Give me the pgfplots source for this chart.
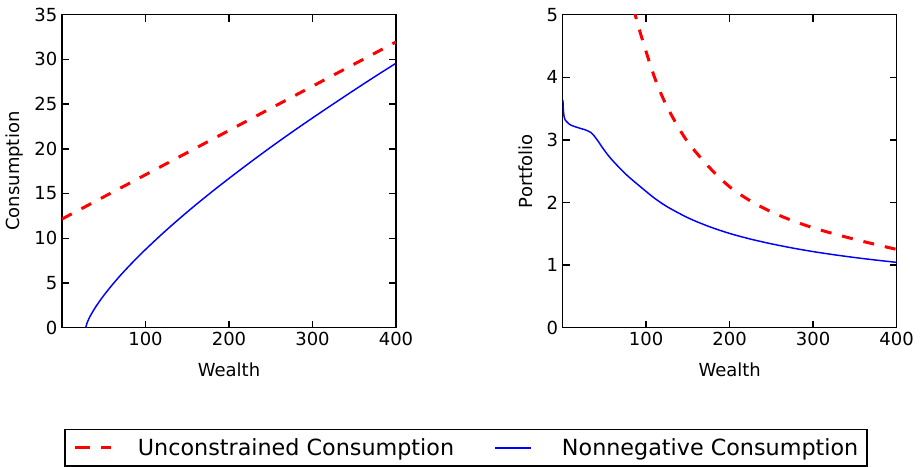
\documentclass[border=0pt]{standalone}
\usepackage{fontspec}
\setmainfont{DejaVu Sans}
\usepackage{pgfplots}
\pgfplotsset{compat=1.18}
\pgfplotsset{
  mystyle/.style={
    scale only axis, width=250.5pt, height=234.75pt,
    axis line style={line width=1.1pt},
    every tick/.style={line width=1.1pt, black},
    major tick length=5.25pt,
    tick align=inside,
    tick pos=both,
    tick label style={font=\fontsize{13.5}{16}\selectfont},
    label style={font=\fontsize{13.5}{16}\selectfont},
    /pgf/number format/assume math mode=true,
    xmin=0, xmax=400, xtick={100,200,300,400},
    xlabel={Wealth},
    xlabel style={at={(axis description cs:0.5,-0.135)}, anchor=center},
  },
  redline/.style={red, line width=2.25pt, dash pattern=on 8.25pt off 8.25pt},
  blueline/.style={blue, line width=1.1pt},
}
\begin{document}
\begin{tikzpicture}
\begin{axis}[mystyle,
  at={(46.5pt,-11.0pt)}, anchor=north west,
  ymin=0, ymax=35, ytick={0,5,...,35},
  ylabel={Consumption},
  ylabel style={at={(axis description cs:-0.143,0.5)}, anchor=center, rotate=0},
  legend style={
    at={(axis description cs:0.0069,-0.3236)}, anchor=north west,
    draw=black, line width=1.1pt,
    inner xsep=6.5pt, inner ysep=6.5pt,
    font=\fontsize{16.7}{20}\selectfont,
    nodes={inner sep=0pt},
    /tikz/every odd column/.append style={column sep=19pt},
    /tikz/every even column/.append style={column sep=30.3pt},
  },
  legend columns=2,
  legend cell align=left,
  legend image code/.code={\path (0pt,0pt) -- (3.2pt,0pt); \draw[#1] (3.2pt,0pt) -- (26.9pt,0pt);},
]
\addplot[redline] coordinates {(0,12.15) (400,31.95)};
\addlegendentry{Unconstrained Consumption\rule[-11pt]{0pt}{11pt}}
\addplot[blueline, smooth] coordinates {
(28.4,0) (30,0.525) (32,0.956) (35,1.498) (40,2.274) (45,2.96) (50,3.60) (60,4.77)
(70,5.85) (80,6.86) (90,7.82) (100,8.74) (120,10.49) (140,12.14) (160,13.72)
(180,15.23) (200,16.69) (225,18.46) (250,20.18) (275,21.84) (300,23.45)
(325,25.02) (350,26.57) (375,28.09) (400,29.57)};
\addlegendentry{\hspace{3.6pt}Nonnegative Consumption\rule[-11pt]{0pt}{11pt}}
\end{axis}
\begin{axis}[mystyle,
  at={(422.0pt,-11.0pt)}, anchor=north west,
  ymin=0, ymax=5, ytick={0,1,...,5},
  ylabel={Portfolio},
  ylabel style={at={(axis description cs:-0.1107,0.5)}, anchor=center},
]
\addplot[redline, smooth] coordinates {
(85,5.1) (86.8,5.0) (95,4.62) (110,4.0) (125,3.53) (148,3.0) (175,2.57) (200,2.25)
(228,2.0) (260,1.79) (300,1.595) (350,1.41) (400,1.25)};
\addplot[blueline, smooth] coordinates {
(0.3,3.64) (0.8,3.48) (1.6,3.38) (3,3.32) (4.8,3.29) (8,3.25) (12.7,3.22) (20.8,3.185)
(26,3.165) (30.7,3.14) (33.5,3.12) (36.7,3.08) (42,2.987) (48.7,2.856) (56,2.728)
(64.8,2.598) (75,2.46) (84.7,2.345) (100,2.175) (110,2.068) (125,1.933) (150,1.755)
(175,1.617) (200,1.505) (225,1.415) (250,1.339) (275,1.273) (300,1.215) (325,1.165)
(350,1.12) (375,1.08) (400,1.043)};
\end{axis}
\pgfresetboundingbox
\useasboundingbox (0pt,0pt) rectangle (690.75pt,-350.25pt);
\end{tikzpicture}
\end{document}
